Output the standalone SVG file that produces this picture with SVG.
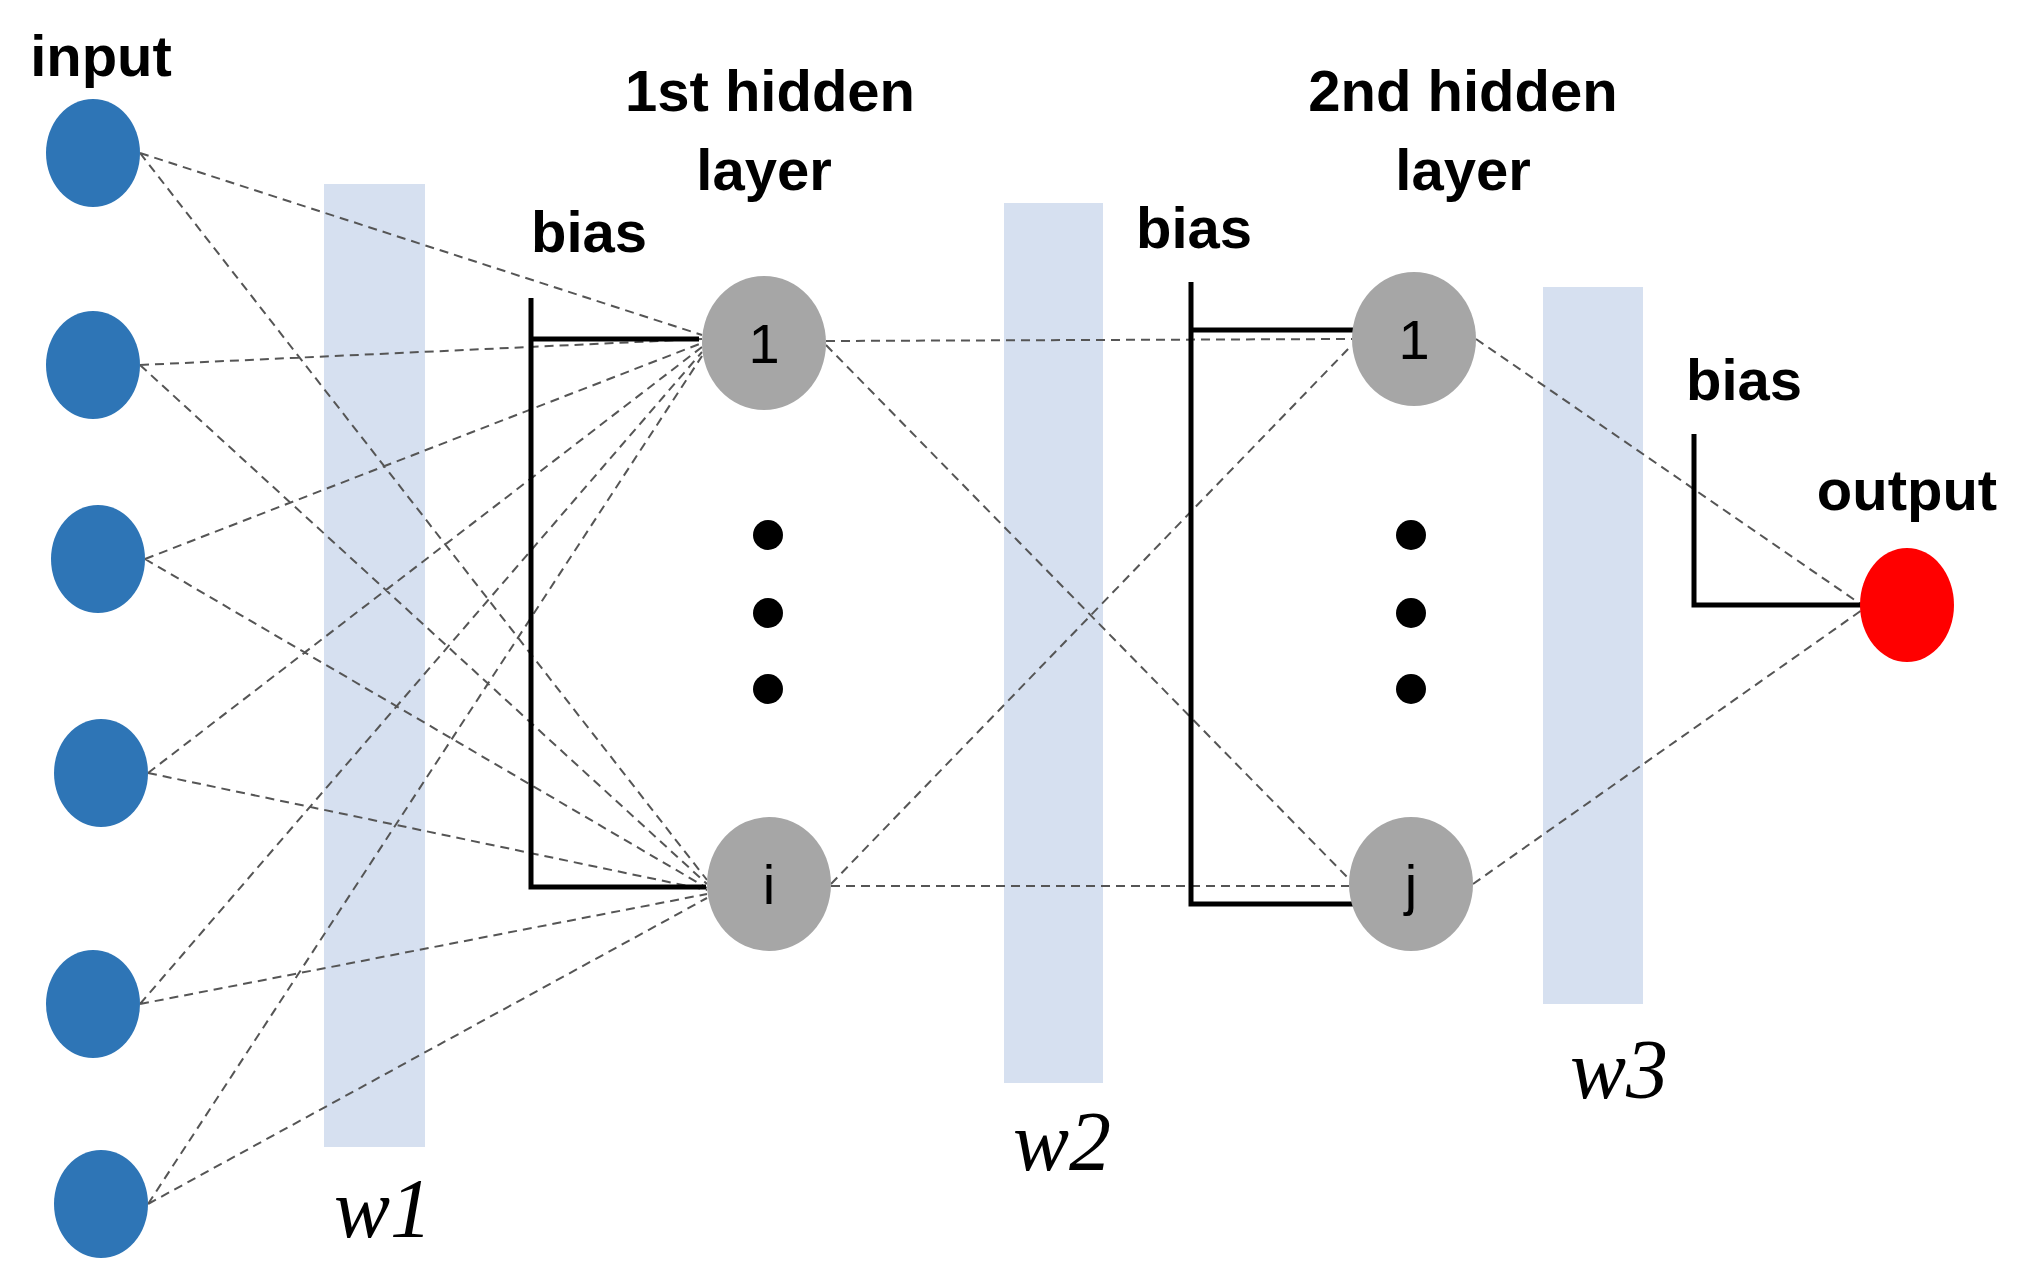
<svg xmlns="http://www.w3.org/2000/svg" width="2030" height="1280" viewBox="0 0 2030 1280">
<style>
.bar{fill:#d6e0f0}
.in{fill:#2e75b6}
.hid{fill:#a6a6a6}
.out{fill:#ff0000}
.dot{fill:#000}
.c{stroke:#555;stroke-width:2;stroke-dasharray:9 6;fill:none}
.b{stroke:#000;stroke-width:5;fill:none}
.t{font-family:"Liberation Sans",Arial,sans-serif;font-weight:bold;font-size:58px;fill:#000;text-anchor:middle}
.n{font-family:"Liberation Sans",Arial,sans-serif;font-size:56px;fill:#000;text-anchor:middle}
.w{font-family:"Liberation Serif","Times New Roman",serif;font-style:italic;font-size:84px;fill:#000;text-anchor:middle}
</style>
<rect width="2030" height="1280" fill="#fff"/>
<g id="bars">
<rect class="bar" x="324" y="184" width="101" height="963"/>
<rect class="bar" x="1004" y="203" width="99" height="880"/>
<rect class="bar" x="1543" y="287" width="100" height="717"/>
<text class="w" x="383" y="1237">w1</text>
<text class="w" x="1062" y="1170">w2</text>
<text class="w" x="1619" y="1098">w3</text>
</g>
<g id="connectors">
<path class="c" d="M140 153L702 335M140 153L707 880M140 365L702 339M140 365L707 884M145 559L702 343M145 559L707 888M148 773L702 347M148 773L707 890M140 1004L702 352M140 1004L707 894M148 1204L702 356M148 1204L707 898"/>
<path class="c" d="M826 341L1352 339M826 345L1350 880M831 884L1352 345M831 886L1349 886M1476 339L1862 605M1473 884L1862 610"/>
</g>
<g id="bias">
<path class="b" d="M531 298V887H706M531 339H699"/>
<path class="b" d="M1191 282V904H1360M1191 330H1360"/>
<path class="b" d="M1694 434V605H1865"/>
<text class="t" x="589" y="252">bias</text>
<text class="t" x="1194" y="248">bias</text>
<text class="t" x="1744" y="400">bias</text>
</g>
<g id="input">
<ellipse class="in" cx="93" cy="153" rx="47" ry="54"/>
<ellipse class="in" cx="93" cy="365" rx="47" ry="54"/>
<ellipse class="in" cx="98" cy="559" rx="47" ry="54"/>
<ellipse class="in" cx="101" cy="773" rx="47" ry="54"/>
<ellipse class="in" cx="93" cy="1004" rx="47" ry="54"/>
<ellipse class="in" cx="101" cy="1204" rx="47" ry="54"/>
<text class="t" x="101" y="76">input</text>
</g>
<g id="hidden1">
<text class="t" x="770" y="111">1st hidden</text>
<text class="t" x="764" y="190">layer</text>
<ellipse class="hid" cx="764" cy="343" rx="62" ry="67"/>
<text class="n" x="764" y="363">1</text>
<ellipse class="hid" cx="769" cy="884" rx="62" ry="67"/>
<text class="n" x="769" y="904">i</text>
<circle class="dot" cx="768" cy="535" r="15"/>
<circle class="dot" cx="768" cy="613" r="15"/>
<circle class="dot" cx="768" cy="689" r="15"/>
</g>
<g id="hidden2">
<text class="t" x="1463" y="111">2nd hidden</text>
<text class="t" x="1463" y="190">layer</text>
<ellipse class="hid" cx="1414" cy="339" rx="62" ry="67"/>
<text class="n" x="1414" y="359">1</text>
<ellipse class="hid" cx="1411" cy="884" rx="62" ry="67"/>
<text class="n" x="1411" y="904">j</text>
<circle class="dot" cx="1411" cy="535" r="15"/>
<circle class="dot" cx="1411" cy="613" r="15"/>
<circle class="dot" cx="1411" cy="689" r="15"/>
</g>
<g id="output">
<text class="t" x="1907" y="510">output</text>
<ellipse class="out" cx="1907" cy="605" rx="47" ry="57"/>
</g>
</svg>
